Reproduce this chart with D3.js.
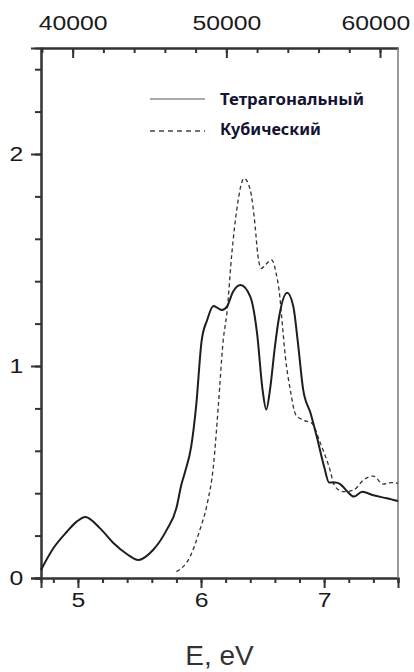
<!DOCTYPE html>
<html>
<head>
<meta charset="utf-8">
<script src="https://cdn.jsdelivr.net/npm/d3@7"></script>
<style>
  body { margin: 0; background: #fff; }
  svg { display: block; }
</style>
</head>
<body>
<div id="plot"></div>
<script>
const w = 414;
const h = 672;
const margin = { top: 48, right: 16, bottom: 94, left: 41 };

// tetragonal phase (solid)
const tetraE = [4.70, 4.80, 4.91, 4.99, 5.06, 5.18, 5.29, 5.40, 5.49, 5.61, 5.72, 5.80, 5.84, 5.87, 5.92, 5.96, 6.005,
  6.05, 6.10, 6.17, 6.21, 6.26, 6.32, 6.40, 6.455, 6.50, 6.53, 6.56, 6.60, 6.63, 6.70, 6.75, 6.785,
  6.83, 6.89, 6.94, 7.00, 7.04, 7.09, 7.13, 7.19, 7.24, 7.31, 7.40, 7.51, 7.60];
const tetraV = [0.038, 0.14, 0.218, 0.266, 0.288, 0.234, 0.164, 0.112, 0.085, 0.132, 0.226, 0.33, 0.44, 0.50, 0.62, 0.81, 1.12,
  1.217, 1.283, 1.264, 1.28, 1.35, 1.382, 1.327, 1.155, 0.887, 0.795, 0.887, 1.09, 1.217, 1.346, 1.28, 1.12,
  0.887, 0.777, 0.667, 0.525, 0.45, 0.45, 0.443, 0.407, 0.384, 0.407, 0.39, 0.376, 0.363];

// cubic phase (dashed)
const cubicE = [5.80, 5.91, 5.99, 6.05, 6.10, 6.14, 6.18, 6.21, 6.25, 6.29, 6.35, 6.40, 6.44, 6.46, 6.49, 6.52, 6.574,
  6.61, 6.64, 6.655, 6.685, 6.725, 6.77, 6.83, 6.90, 6.97, 7.04, 7.09, 7.16, 7.24, 7.32, 7.40, 7.48, 7.54, 7.60];
const cubicV = [0.03, 0.10, 0.226, 0.35, 0.525, 0.808, 1.12, 1.249, 1.53, 1.736, 1.885, 1.83, 1.657, 1.53, 1.46, 1.476, 1.5,
  1.437, 1.327, 1.232, 1.044, 0.887, 0.77, 0.745, 0.73, 0.635, 0.525, 0.43, 0.407, 0.415, 0.462, 0.481, 0.443, 0.45, 0.447];

const xTicks = [5, 6, 7];
const yTicks = [0, 1, 2];
const topTicks = [40000, 50000, 60000];
const legendKeys = ["Тетрагональный", "Кубический"];
const xLabel = "E, eV";

const tetra = tetraE.map((e, i) => [e, tetraV[i]]);
const cubic = cubicE.map((e, i) => [e, cubicV[i]]);

const xScale = d3.scaleLinear().domain([4.7, 7.6]).range([margin.left, w - margin.right]);
const yScale = d3.scaleLinear().domain([0, 2.5]).range([h - margin.bottom, margin.top]);
// wavenumber, cm-1
const xTop = d3.scaleLinear().domain([37940, 61170]).range([margin.left, w - margin.right]);

const svg = d3.select("#plot").append("svg")
  .attr("width", w)
  .attr("height", h);

const tickFont = "'Liberation Sans', Arial, sans-serif";
const stretch = "scale(1.18,1)";

function styleAxis(g) {
  g.select(".domain").attr("stroke", "#333").attr("stroke-width", 2);
  g.selectAll(".tick line").attr("stroke", "#333").attr("stroke-width", 2);
  g.selectAll("text").attr("fill", "#1a1a1a").style("font-family", tickFont).style("font-size", "21px")
    .attr("transform", stretch);
}

// bottom: minor then major
svg.append("g")
  .attr("transform", "translate(0," + (h - margin.bottom) + ")")
  .call(d3.axisBottom(xScale).tickValues(d3.range(4.8, 7.61, 0.2)).tickSize(5).tickFormat(""))
  .call(styleAxis);
svg.append("g")
  .attr("transform", "translate(0," + (h - margin.bottom) + ")")
  .call(d3.axisBottom(xScale).tickValues(xTicks).tickSize(10).tickPadding(4).tickFormat(d3.format("d")))
  .call(styleAxis);

// left
svg.append("g")
  .attr("transform", "translate(" + margin.left + ",0)")
  .call(d3.axisLeft(yScale).tickValues(d3.range(0, 2.41, 0.2)).tickSize(6).tickFormat(""))
  .call(styleAxis);
svg.append("g")
  .attr("transform", "translate(" + margin.left + ",0)")
  .call(d3.axisLeft(yScale).tickValues(yTicks).tickSize(10).tickPadding(5).tickFormat(d3.format("d")))
  .call(styleAxis);

// top, ticks inward
svg.append("g")
  .attr("transform", "translate(0," + margin.top + ")")
  .call(d3.axisTop(xTop).tickValues(d3.range(38000, 61001, 2000)).tickSizeInner(-5).tickSizeOuter(0).tickFormat(""))
  .call(styleAxis);
const topAxis = svg.append("g")
  .attr("transform", "translate(0," + margin.top + ")")
  .call(d3.axisTop(xTop).tickValues(topTicks).tickSizeInner(-10).tickSizeOuter(0).tickPadding(18).tickFormat(d3.format("d")))
  .call(styleAxis);
// last label sits a bit left of its tick, as in the original
topAxis.selectAll(".tick text").filter(d => d === 60000).attr("x", -4);

// right border
svg.append("line")
  .attr("x1", w - margin.right).attr("x2", w - margin.right)
  .attr("y1", margin.top).attr("y2", h - margin.bottom)
  .attr("stroke", "#777").attr("stroke-width", 1.5);

const line = d3.line()
  .x(d => xScale(d[0]))
  .y(d => yScale(d[1]))
  .curve(d3.curveMonotoneX);

svg.append("path")
  .datum(cubic)
  .attr("d", line)
  .attr("fill", "none")
  .attr("stroke", "#333")
  .attr("stroke-width", 1.3)
  .attr("stroke-dasharray", "4,3");

svg.append("path")
  .datum(tetra)
  .attr("d", line)
  .attr("fill", "none")
  .attr("stroke", "#1e1e1e")
  .attr("stroke-width", 2);

// legend
const legend = svg.append("g");
const legendY = [99, 131];
const textY = [105, 135];
const textLen = [144, 101];

legend.selectAll("line")
  .data(legendKeys)
  .enter()
  .append("line")
  .attr("x1", 150).attr("x2", 205)
  .attr("y1", (d, i) => legendY[i]).attr("y2", (d, i) => legendY[i])
  .attr("stroke", (d, i) => i === 0 ? "#aaa" : "#444")
  .attr("stroke-width", (d, i) => i === 0 ? 2 : 1.5)
  .attr("stroke-dasharray", (d, i) => i === 0 ? null : "5,4");

legend.selectAll("text")
  .data(legendKeys)
  .enter()
  .append("text")
  .attr("x", 220)
  .attr("y", (d, i) => textY[i])
  .attr("textLength", (d, i) => textLen[i])
  .attr("lengthAdjust", "spacingAndGlyphs")
  .attr("fill", "#141432")
  .style("font-family", "'Noto Sans', 'DejaVu Sans', sans-serif")
  .style("font-weight", "bold")
  .style("font-size", "16px")
  .text(d => d);

svg.append("text")
  .attr("x", (margin.left + w - margin.right) / 2)
  .attr("y", 665)
  .attr("text-anchor", "middle")
  .attr("fill", "#333")
  .style("font-family", tickFont)
  .style("font-size", "28px")
  .text(xLabel);
</script>
</body>
</html>
